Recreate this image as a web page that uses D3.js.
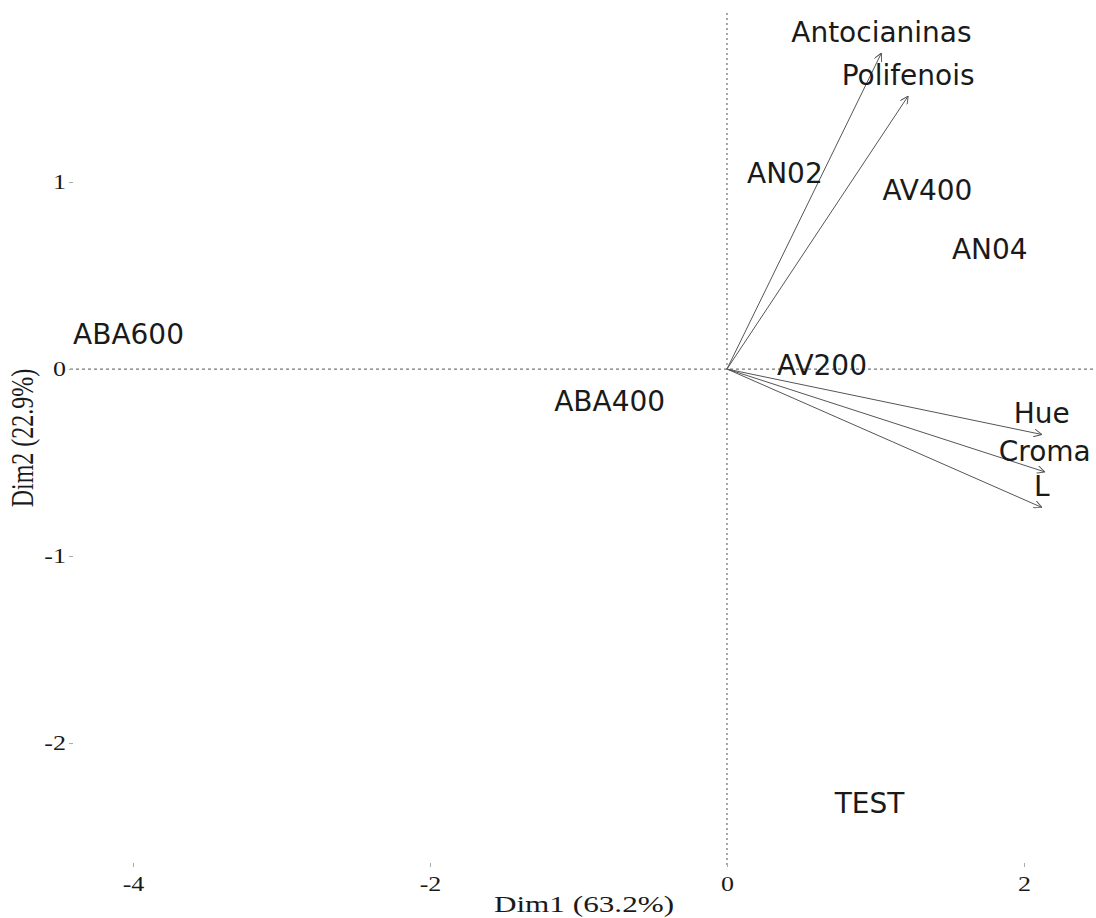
<!DOCTYPE html>
<html>
<head>
<meta charset="utf-8">
<script src="https://cdn.jsdelivr.net/npm/d3@7"></script>
<style>
  html, body { margin: 0; padding: 0; background: #fff; }
  svg { display: block; }
</style>
</head>
<body>
<svg id="chart" width="1096" height="918"></svg>
<script>
// ---- data ----
const indNames = ["ABA600", "ABA400", "AN02", "AV400", "AN04", "AV200", "TEST"];
const indDim1  = [-4.03, -0.79, 0.39, 1.35, 1.77, 0.64, 0.96];
const indDim2  = [0.19, -0.17, 1.05, 0.96, 0.64, 0.02, -2.32];

const varNames = ["Antocianinas", "Polifenois", "Hue", "Croma", "L"];
const varDim1  = [1.04, 1.22, 2.12, 2.14, 2.12];
const varDim2  = [1.69, 1.46, -0.35, -0.55, -0.74];

const xTicks = [-4, -2, 0, 2];
const yTicks = [-2, -1, 0, 1];
const xTitle = "Dim1 (63.2%)";
const yTitle = "Dim2 (22.9%)";

// ---- layout ----
const svg = d3.select("#chart");
const mLeft = 70, mRight = 1096, mTop = 13, mBottom = 867;
const x = d3.scaleLinear().domain([-4.424, 2.485]).range([mLeft, mRight]);
const y = d3.scaleLinear().domain([-2.663, 1.904]).range([mBottom, mTop]);
const serif = "'Liberation Serif', 'Times New Roman', serif";
const sans = "'DejaVu Sans', Verdana, sans-serif";
const stretch = 1.3;

// reference lines at 0
svg.append("line")
  .attr("x1", mLeft).attr("x2", mRight)
  .attr("y1", y(0)).attr("y2", y(0))
  .attr("stroke", "#777").attr("stroke-width", 1.3)
  .attr("stroke-dasharray", "3,3");
svg.append("line")
  .attr("x1", x(0)).attr("x2", x(0))
  .attr("y1", mTop).attr("y2", mBottom)
  .attr("stroke", "#777").attr("stroke-width", 1.3)
  .attr("stroke-dasharray", "2,3");

// axes
const xAxis = d3.axisBottom(x).tickValues(xTicks).tickSize(4).tickPadding(6)
  .tickFormat(d => String(d));
const gx = svg.append("g").attr("transform", `translate(0,${mBottom - 4})`).call(xAxis);
gx.select(".domain").remove();
gx.selectAll(".tick line").attr("stroke", "#aaa");
gx.selectAll(".tick text")
  .attr("fill", "#1a1a1a")
  .attr("transform", `scale(${stretch},1)`)
  .style("font-family", serif)
  .style("font-size", "20px")
  .attr("dy", "0.9em");

const yAxis = d3.axisLeft(y).tickValues(yTicks).tickSize(4).tickPadding(3)
  .tickFormat(d => String(d));
const gy = svg.append("g").attr("transform", `translate(${mLeft + 3},0)`).call(yAxis);
gy.select(".domain").remove();
gy.selectAll(".tick line").attr("stroke", "#aaa");
gy.selectAll(".tick text")
  .attr("fill", "#1a1a1a")
  .attr("x", -7 / stretch)
  .attr("transform", `scale(${stretch},1)`)
  .style("font-family", serif)
  .style("font-size", "20px");

// axis titles
svg.append("text")
  .attr("transform", `translate(584,912) scale(${stretch},1)`)
  .attr("text-anchor", "middle")
  .style("font-family", serif)
  .style("font-size", "24px")
  .attr("fill", "#1a1a1a")
  .text(xTitle);
svg.append("text")
  .attr("transform", `translate(33,438) scale(${stretch},1) rotate(-90)`)
  .attr("text-anchor", "middle")
  .style("font-family", serif)
  .style("font-size", "24px")
  .attr("fill", "#1a1a1a")
  .text(yTitle);

// arrow marker
const defs = svg.append("defs");
defs.append("marker")
  .attr("id", "arr")
  .attr("viewBox", "0 0 10 10")
  .attr("refX", 10).attr("refY", 5)
  .attr("markerWidth", 8).attr("markerHeight", 8)
  .attr("markerUnits", "userSpaceOnUse")
  .attr("orient", "auto")
  .append("path")
  .attr("d", "M0,0 L10,5 L0,10")
  .attr("fill", "none").attr("stroke", "#555").attr("stroke-width", 1.2);

// variable arrows
const vars = varNames.map((n, i) => ({ name: n, d1: varDim1[i], d2: varDim2[i] }));
svg.append("g").selectAll("line").data(vars).join("line")
  .attr("x1", x(0)).attr("y1", y(0))
  .attr("x2", d => x(d.d1)).attr("y2", d => y(d.d2))
  .attr("stroke", "#555").attr("stroke-width", 1)
  .attr("marker-end", "url(#arr)");

svg.append("g").selectAll("text").data(vars).join("text")
  .attr("x", d => x(d.d1)).attr("y", d => y(d.d2) - 11)
  .attr("text-anchor", "middle")
  .style("font-family", sans)
  .style("font-size", "28px")
  .attr("fill", "#1a1a1a")
  .text(d => d.name);

// individuals
const inds = indNames.map((n, i) => ({ name: n, d1: indDim1[i], d2: indDim2[i] }));
svg.append("g").selectAll("text").data(inds).join("text")
  .attr("x", d => x(d.d1)).attr("y", d => y(d.d2))
  .attr("dy", "0.36em")
  .attr("text-anchor", "middle")
  .style("font-family", sans)
  .style("font-size", "28px")
  .attr("fill", "#1a1a1a")
  .text(d => d.name);
</script>
</body>
</html>
